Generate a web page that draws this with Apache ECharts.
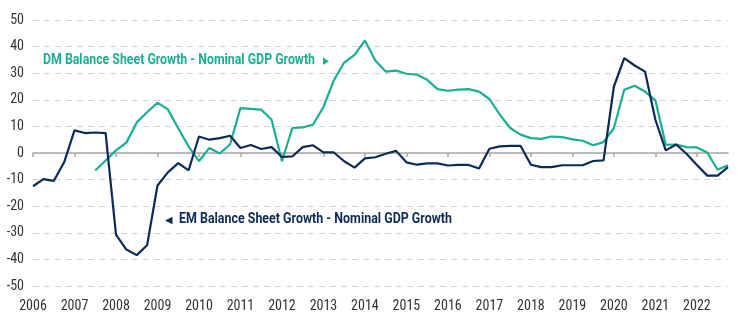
<!DOCTYPE html>
<html>
<head>
<meta charset="utf-8">
<style>
  html, body { margin: 0; padding: 0; background: #ffffff; }
  #chart { width: 737px; height: 325px; }
</style>
<script src="https://cdn.jsdelivr.net/npm/echarts@6/dist/echarts.min.js"></script>
</head>
<body>
<div id="chart"></div>
<script>
// Quarterly observations, 2006 Q1 to 2022 Q4
const years = [2006, 2007, 2008, 2009, 2010, 2011, 2012, 2013, 2014,
               2015, 2016, 2017, 2018, 2019, 2020, 2021, 2022];
const quarters = ['Q1', 'Q2', 'Q3', 'Q4'];

// DM balance sheet growth minus nominal GDP growth (pp)
const dmGap = [
  null, null, null, null, null, null, -6.6, -2.8,
  1.0, 3.9, 11.5, 15.3, 18.9, 16.4, 9.3, 2.5,
  -3.1, 1.9, -0.2, 3.3, 16.9, 16.6, 16.3, 12.5,
  -3.1, 9.4, 9.6, 10.7, 17.3, 27.3, 34.0, 36.9,
  42.3, 34.8, 30.6, 31.0, 29.8, 29.5, 27.5, 24.0,
  23.4, 23.8, 24.0, 23.1, 20.3, 14.4, 9.4, 6.9,
  5.6, 5.3, 6.2, 6.0, 5.1, 4.6, 2.9, 4.1,
  9.4, 23.8, 25.3, 23.1, 19.8, 3.1, 3.2, 2.2,
  2.1, 0.2, -6.3, -4.6
];

// EM balance sheet growth minus nominal GDP growth (pp)
const emGap = [
  -12.5, -9.8, -10.5, -3.5, 8.5, 7.5, 7.7, 7.5,
  -30.7, -36.3, -38.4, -34.7, -12.2, -7.3, -3.8, -6.5,
  6.2, 5.0, 5.6, 6.5, 1.9, 3.0, 1.5, 2.2,
  -1.5, -1.3, 2.2, 2.9, 0.2, 0.2, -3.1, -5.5,
  -2.0, -1.6, -0.3, 0.8, -3.5, -4.4, -3.9, -3.9,
  -4.7, -4.5, -4.5, -5.8, 1.6, 2.5, 2.7, 2.7,
  -4.4, -5.3, -5.3, -4.6, -4.6, -4.6, -3.0, -2.8,
  25.0, 35.7, 32.9, 30.6, 12.5, 1.0, 3.2, -0.3,
  -4.5, -8.5, -8.5, -5.3
];

const yTicks = { min: -50, max: 50, step: 10 };

const dmName = 'DM Balance Sheet Growth - Nominal GDP Growth';
const emName = 'EM Balance Sheet Growth - Nominal GDP Growth';

const periods = [];
years.forEach(function (y) {
  quarters.forEach(function (q) { periods.push(y + ' ' + q); });
});

const TEAL = '#1aae93';
const NAVY = '#0c2a56';
const LABEL_FONT = "'Roboto Condensed', 'Liberation Sans Narrow', 'Arial Narrow', 'DejaVu Sans Condensed', Roboto, sans-serif";
const TITLE_FONT = "Roboto, 'Liberation Sans', sans-serif";

// Fit annotation text to a target width by horizontal scaling
function fitScale(text, font, target) {
  const ctx = document.createElement('canvas').getContext('2d');
  ctx.font = font;
  const w = ctx.measureText(text).width;
  return w > 0 ? target / w : 1;
}
const annFont = "bold 14px " + TITLE_FONT;
const dmScale = fitScale(dmName, annFont, 272);
const emScale = fitScale(emName, annFont, 273);

const chart = echarts.init(document.getElementById('chart'), null, { renderer: 'canvas' });

chart.setOption({
  animation: false,
  backgroundColor: '#ffffff',
  grid: { left: 33, right: 9, top: 20, bottom: 39, containLabel: false },
  xAxis: [
    {
      type: 'category',
      data: periods,
      boundaryGap: false,
      axisLine: { show: false, onZero: false },
      axisTick: { show: false },
      splitLine: { show: false },
      axisLabel: {
        interval: 3,
        margin: 13,
        color: '#333333',
        fontSize: 14,
        fontFamily: LABEL_FONT,
        formatter: function (v) { return v.slice(0, 4); }
      }
    },
    {
      type: 'category',
      data: periods,
      boundaryGap: false,
      position: 'bottom',
      axisLine: { show: true, onZero: true, lineStyle: { color: '#a8a8a8', width: 1.5 } },
      axisTick: { show: true, interval: 3, length: 4, inside: false, lineStyle: { color: '#a8a8a8', width: 1.5 } },
      axisLabel: { show: false },
      splitLine: { show: false }
    }
  ],
  yAxis: {
    type: 'value',
    min: yTicks.min,
    max: yTicks.max,
    interval: yTicks.step,
    axisLine: { show: false },
    axisTick: { show: false },
    axisLabel: {
      margin: 9,
      color: '#333333',
      fontSize: 14,
      fontFamily: LABEL_FONT
    },
    splitLine: {
      show: true,
      lineStyle: { color: '#d4d4d4', type: [6, 5], width: 1.2 }
    }
  },
  series: [
    {
      name: dmName,
      type: 'line',
      xAxisIndex: 0,
      data: dmGap,
      showSymbol: false,
      connectNulls: false,
      lineStyle: { color: TEAL, width: 2.2 },
      itemStyle: { color: TEAL },
      z: 3
    },
    {
      name: emName,
      type: 'line',
      xAxisIndex: 0,
      data: emGap,
      showSymbol: false,
      lineStyle: { color: NAVY, width: 2.2 },
      itemStyle: { color: NAVY },
      z: 4
    }
  ],
  graphic: [
    {
      type: 'text',
      left: 43, top: 53,
      scaleX: dmScale,
      style: { text: dmName, font: annFont, fill: TEAL }
    },
    {
      type: 'polygon',
      shape: { points: [[323, 57.5], [329, 61.3], [323, 65]] },
      style: { fill: TEAL }
    },
    {
      type: 'text',
      left: 179, top: 212,
      scaleX: emScale,
      style: { text: emName, font: annFont, fill: NAVY }
    },
    {
      type: 'polygon',
      shape: { points: [[165, 220.5], [172.5, 216.7], [172.5, 224.3]] },
      style: { fill: NAVY }
    }
  ]
});
</script>
</body>
</html>
